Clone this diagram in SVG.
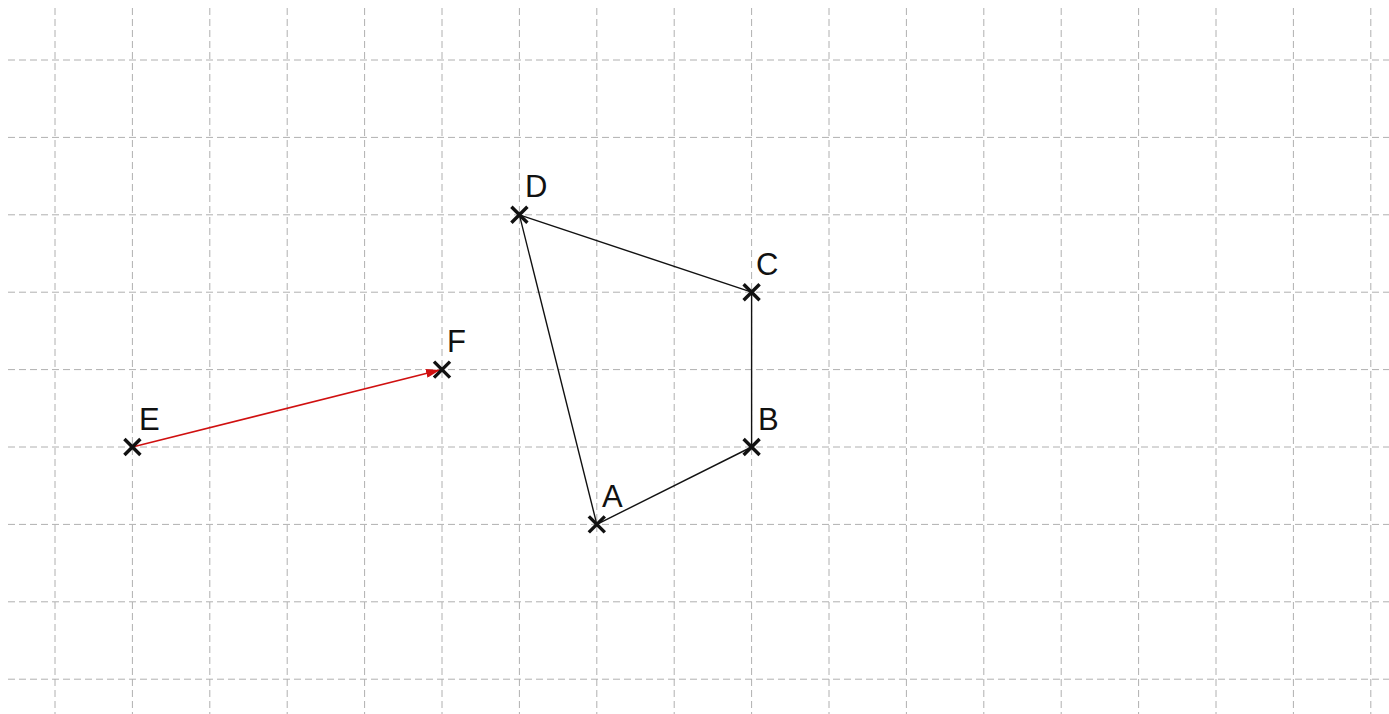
<svg xmlns="http://www.w3.org/2000/svg" width="1389" height="714" viewBox="0 0 1389 714">
<style>
.grid line{stroke:#b0b0b0;stroke-width:1;stroke-dasharray:7 4;fill:none}
.seg{stroke:#111;stroke-width:1.4;fill:none}
.vec{stroke:#d01010;stroke-width:1.6;fill:none}
.mk{stroke:#111;stroke-width:3.4;fill:none}
.lbl{font-family:"Liberation Sans",Arial,sans-serif;font-size:31px;fill:#111}
</style>
<defs>
<marker id="ah" viewBox="0 0 14 9" refX="14" refY="4.5" markerWidth="14" markerHeight="9" markerUnits="userSpaceOnUse" orient="auto">
<path d="M0,0 L14,4.5 L0,9 Z" fill="#d01010"/>
</marker>
<g id="x"><path d="M-8,-8 L8,8 M-8,8 L8,-8"/></g>
</defs>
<rect width="1389" height="714" fill="#fff"/>
<g class="grid">
<line x1="55" y1="8" x2="55" y2="714"/>
<line x1="132.4" y1="8" x2="132.4" y2="714"/>
<line x1="209.8" y1="8" x2="209.8" y2="714"/>
<line x1="287.2" y1="8" x2="287.2" y2="714"/>
<line x1="364.6" y1="8" x2="364.6" y2="714"/>
<line x1="442" y1="8" x2="442" y2="714"/>
<line x1="519.4" y1="8" x2="519.4" y2="714"/>
<line x1="596.8" y1="8" x2="596.8" y2="714"/>
<line x1="674.2" y1="8" x2="674.2" y2="714"/>
<line x1="751.6" y1="8" x2="751.6" y2="714"/>
<line x1="829" y1="8" x2="829" y2="714"/>
<line x1="906.4" y1="8" x2="906.4" y2="714"/>
<line x1="983.8" y1="8" x2="983.8" y2="714"/>
<line x1="1061.2" y1="8" x2="1061.2" y2="714"/>
<line x1="1138.6" y1="8" x2="1138.6" y2="714"/>
<line x1="1216" y1="8" x2="1216" y2="714"/>
<line x1="1293.4" y1="8" x2="1293.4" y2="714"/>
<line x1="1370.8" y1="8" x2="1370.8" y2="714"/>
<line x1="8" y1="60" x2="1389" y2="60"/>
<line x1="8" y1="137.4" x2="1389" y2="137.4"/>
<line x1="8" y1="214.8" x2="1389" y2="214.8"/>
<line x1="8" y1="292.2" x2="1389" y2="292.2"/>
<line x1="8" y1="369.6" x2="1389" y2="369.6"/>
<line x1="8" y1="447" x2="1389" y2="447"/>
<line x1="8" y1="524.4" x2="1389" y2="524.4"/>
<line x1="8" y1="601.8" x2="1389" y2="601.8"/>
<line x1="8" y1="679.2" x2="1389" y2="679.2"/>
</g>
<g id="connectors">
<line class="seg" x1="519.4" y1="214.8" x2="751.6" y2="292.2"/>
<line class="seg" x1="751.6" y1="292.2" x2="751.6" y2="447"/>
<line class="seg" x1="751.6" y1="447" x2="596.8" y2="524.4"/>
<line class="seg" x1="596.8" y1="524.4" x2="519.4" y2="214.8"/>
<line class="vec" x1="132.4" y1="447" x2="440" y2="370" marker-end="url(#ah)"/>
</g>
<g id="A"><use href="#x" class="mk" x="596.8" y="524.4"/><text class="lbl" x="602" y="507">A</text></g>
<g id="B"><use href="#x" class="mk" x="751.6" y="447"/><text class="lbl" x="758" y="430">B</text></g>
<g id="C"><use href="#x" class="mk" x="751.6" y="292.2"/><text class="lbl" x="756" y="275">C</text></g>
<g id="D"><use href="#x" class="mk" x="519.4" y="214.8"/><text class="lbl" x="525" y="197">D</text></g>
<g id="E"><use href="#x" class="mk" x="132.4" y="447"/><text class="lbl" x="139" y="430">E</text></g>
<g id="F"><use href="#x" class="mk" x="442" y="369.6"/><text class="lbl" x="447" y="352">F</text></g>
</svg>
